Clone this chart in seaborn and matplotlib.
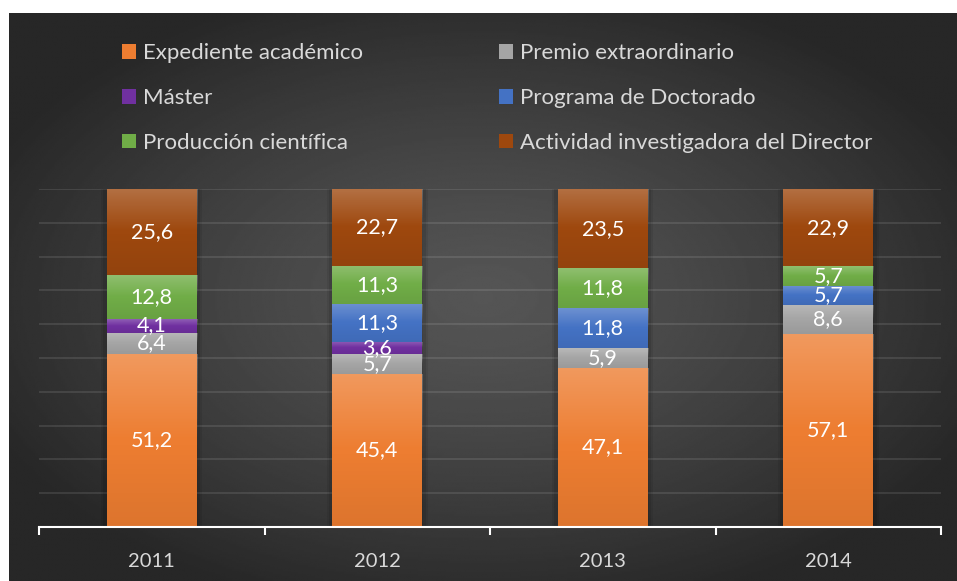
import numpy as np
import pandas as pd
import matplotlib.pyplot as plt
import seaborn as sns

# === DATA ===
years = ["2011", "2012", "2013", "2014"]
expediente = [51.2, 45.4, 47.1, 57.1]
premio = [6.4, 5.7, 5.9, 8.6]
master = [4.1, 3.6, 0.0, 0.0]
programa = [0.0, 11.3, 11.8, 5.7]
produccion = [12.8, 11.3, 11.8, 5.7]
actividad = [25.6, 22.7, 23.5, 22.9]

series_names = ["Expediente académico", "Premio extraordinario", "Máster",
                "Programa de Doctorado", "Producción científica",
                "Actividad investigadora del Director"]
series_values = [expediente, premio, master, programa, produccion, actividad]
colors = ["#ED7D31", "#A5A5A5", "#7030A0", "#4472C4", "#70AD47", "#9E480E"]

# 100% stacked -> normalise each year
totals = np.sum(series_values, axis=0)

# === STYLE ===
sns.set_theme(style="white")
plt.rcParams["font.family"] = ["Lato", "DejaVu Sans"]
TXT = "#D9D9D9"

W, H = 957, 581
fig = plt.figure(figsize=(W / 100, H / 100), dpi=100, facecolor="white")


def px(x0, y0, x1, y1):
    return [x0 / W, 1 - y1 / H, (x1 - x0) / W, (y1 - y0) / H]


# === BACKGROUND (radial gradient) ===
bg = fig.add_axes(px(9, 13, 957, 581))
gy, gx = np.mgrid[-1:1:300j, -1:1:500j]
r = np.clip(np.sqrt(gx ** 2 + gy ** 2) / 1.15, 0, 1) ** 1.3
shade = (0x55 - (0x55 - 0x27) * r) / 255
bg.imshow(shade, cmap="gray", vmin=0, vmax=1, aspect="auto", interpolation="bilinear")
bg.axis("off")

# === BARS ===
ax = fig.add_axes(px(39, 189, 941, 527))
ax.patch.set_alpha(0)

# soft shadow behind each column
shadow = np.sum([np.array(v) / totals * 100 for v in series_values], axis=0)
for w, a in [(0.45, 0.07), (0.43, 0.09)]:
    sns.barplot(x=years, y=shadow, width=w, color="black", alpha=a,
                saturation=1, errorbar=None, ax=ax, zorder=1, linewidth=0)
n_shadow = len(ax.containers)

bottom = np.zeros(len(years))
for name, vals, col in zip(series_names, series_values, colors):
    share = np.array(vals) / totals * 100
    sns.barplot(x=years, y=share, bottom=bottom.copy(), width=0.4, color=col,
                saturation=1, errorbar=None, label=name, ax=ax, zorder=3,
                linewidth=0)
    bottom += share

# gradient sheen on each segment (lighter top, darker bottom)
sheen = np.zeros((64, 2, 4))
t = np.linspace(0, 1, 64)
sheen[:, :, :3] = np.where(t < 0.5, 1.0, 0.0)[:, None, None]
sheen[:, :, 3] = np.where(t < 0.5, 0.22 * (1 - t / 0.5), 0.07 * (t - 0.5) / 0.5)[:, None]
for cont in ax.containers[n_shadow:]:
    for p in cont.patches:
        x0, y0, w, h = p.get_x(), p.get_y(), p.get_width(), p.get_height()
        if h <= 0:
            continue
        im = ax.imshow(sheen, extent=[x0, x0 + w, y0, y0 + h], aspect="auto",
                       interpolation="bilinear", zorder=4)
        im.set_clip_path(p)

# data labels
for cont, vals in zip(ax.containers[n_shadow:], series_values):
    labels = [f"{v:.1f}".replace(".", ",") if v > 0 else "" for v in vals]
    ax.bar_label(cont, labels=labels, label_type="center", color="white",
                 fontsize=15.5, zorder=6)

# === AXES ===
ax.set_xlim(-0.5, len(years) - 0.5)
ax.set_ylim(0, 100)
ax.set_yticks(np.arange(0, 101, 10))
ax.yaxis.grid(True, color="white", alpha=0.12, linewidth=1.2, zorder=0)
ax.set_axisbelow(True)
ax.tick_params(axis="y", left=False, labelleft=False)
ax.set_xticks(np.arange(-0.5, len(years)), minor=True)
ax.tick_params(axis="x", which="minor", bottom=True, length=6, width=1.5,
               color="white", direction="out")
ax.tick_params(axis="x", which="major", bottom=False, length=0, pad=19,
               labelsize=14.5, labelcolor=TXT)
for s in ["top", "right", "left"]:
    ax.spines[s].set_visible(False)
ax.spines["bottom"].set_color("white")
ax.spines["bottom"].set_linewidth(1.5)
ax.spines["bottom"].set_zorder(7)
ax.set_xlabel("")
ax.set_ylabel("")

# === LEGEND ===
handles, labels = ax.get_legend_handles_labels()
if ax.get_legend() is not None:
    ax.get_legend().remove()
order = [0, 2, 4, 1, 3, 5]
fig.legend([handles[i] for i in order], [labels[i] for i in order],
           ncol=2, loc="upper left", bbox_to_anchor=(122 / W, 1 - 43 / H),
           frameon=False, fontsize=16, labelcolor=TXT, handlelength=0.65,
           handleheight=0.65, handletextpad=0.3, columnspacing=6.1,
           labelspacing=1.12, borderpad=0, borderaxespad=0)

fig.savefig("out.png", dpi=100, facecolor="white")
